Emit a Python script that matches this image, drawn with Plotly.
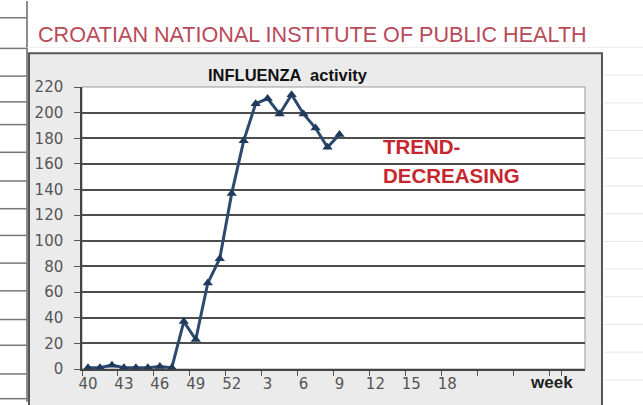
import plotly.graph_objects as go

# ---- data ----
weeks = [str(w) for w in list(range(40, 53)) + list(range(1, 30))]
obs_weeks = [str(w) for w in list(range(40, 53)) + list(range(1, 10))]
activity = [1, 1, 3, 1, 1, 1, 2, 1, 37, 23, 67, 86, 137,
            178, 207, 211, 199, 214, 199, 188, 173, 183]
tick_weeks = ["40", "43", "46", "49", "52", "3", "6", "9", "12", "15", "18", "21", "24", "27"]
tick_text = ["40", "43", "46", "49", "52", "3", "6", "9", "12", "15", "18", "", "", ""]
y_ticks = list(range(0, 221, 20))

W, H = 643, 405
L, R, T, B = 82, 585, 87, 372


def px(x):
    return (x - L) / (R - L)


def py(y):
    return (B - y) / (B - T)


fig = go.Figure()
fig.add_trace(go.Scatter(
    x=obs_weeks, y=activity, mode="lines+markers",
    line=dict(color="#2b4a6e", width=3),
    marker=dict(symbol="triangle-up", size=9, color="#1f3a5c"),
    showlegend=False, hoverinfo="x+y",
))

shapes = []
# chart box (grey chart area)
shapes.append(dict(type="rect", xref="paper", yref="paper", layer="below",
                   x0=px(29), x1=px(602), y0=py(420), y1=py(53),
                   fillcolor="#ebebeb", line=dict(color="#555555", width=2)))
# white plot area with grey right border
shapes.append(dict(type="rect", xref="paper", yref="paper", layer="below",
                   x0=0, x1=1, y0=0, y1=1,
                   fillcolor="white", line=dict(color="#999999", width=1)))
# spreadsheet lines on the left
shapes.append(dict(type="line", xref="paper", yref="paper",
                   x0=px(27), x1=px(27), y0=py(0), y1=py(405),
                   line=dict(color="#666666", width=1.5)))
for yy in [17, 48, 76, 102, 125, 153, 182, 210, 237, 265, 293, 322, 348, 377, 402]:
    shapes.append(dict(type="line", xref="paper", yref="paper",
                       x0=px(0), x1=px(27), y0=py(yy), y1=py(yy),
                       line=dict(color="#777777", width=1.5)))
# faint spreadsheet lines on the right
for yy in [47, 75, 103, 131, 159, 187, 215, 243, 271, 299, 327, 355, 383]:
    shapes.append(dict(type="line", xref="paper", yref="paper",
                       x0=px(604), x1=px(643), y0=py(yy), y1=py(yy),
                       line=dict(color="#e6e6e6", width=1)))
shapes.append(dict(type="line", xref="paper", yref="paper",
                   x0=px(27), x1=px(643), y0=py(47), y1=py(47),
                   line=dict(color="#eeeeee", width=1)))

annotations = [
    dict(text="CROATIAN NATIONAL INSTITUTE OF PUBLIC HEALTH", xref="paper", yref="paper",
         x=px(36), y=py(34), xanchor="left", yanchor="middle", showarrow=False,
         font=dict(family="Liberation Sans, Arial", size=21.6, color="#b94a5a")),
    dict(text="<b>INFLUENZA  activity</b>", xref="paper", yref="paper",
         x=px(288), y=py(75), xanchor="center", yanchor="middle", showarrow=False,
         font=dict(family="Liberation Sans, Arial", size=16.5, color="#111111")),
    dict(text="<b>TREND-</b>", xref="paper", yref="paper",
         x=px(381), y=py(147), xanchor="left", yanchor="middle", showarrow=False,
         font=dict(family="Liberation Sans, Arial", size=20.5, color="#c8262e")),
    dict(text="<b>DECREASING</b>", xref="paper", yref="paper",
         x=px(381), y=py(176), xanchor="left", yanchor="middle", showarrow=False,
         font=dict(family="Liberation Sans, Arial", size=20.5, color="#c8262e")),
    dict(text="<b>week</b>", xref="paper", yref="paper",
         x=px(551), y=py(386), xanchor="center", yanchor="middle", showarrow=False,
         font=dict(family="Liberation Sans, Arial", size=17, color="#222222")),
]

fig.update_layout(
    width=W, height=H,
    margin=dict(l=L, r=W - R, t=T, b=H - B),
    paper_bgcolor="white", plot_bgcolor="rgba(0,0,0,0)",
    shapes=shapes, annotations=annotations,
    showlegend=False,
)
fig.update_xaxes(
    type="category", categoryorder="array", categoryarray=weeks,
    range=[-0.5, len(weeks) - 0.5],
    tickmode="array", tickvals=tick_weeks, ticktext=tick_text,
    tickson="boundaries", ticks="outside", ticklen=5, tickcolor="#555555",
    tickangle=0,
    showgrid=False, showline=True, linecolor="#444444", linewidth=2,
    tickfont=dict(family="DejaVu Sans", size=15, color="#555555"),
    fixedrange=True,
)
fig.update_yaxes(
    range=[0, 220], tickmode="array", tickvals=y_ticks,
    ticks="outside", ticklen=6, tickcolor="#555555",
    showgrid=True, gridcolor="#4d4d4d", gridwidth=1.5,
    showline=True, linecolor="#444444", linewidth=1.5,
    zeroline=False,
    tickfont=dict(family="DejaVu Sans", size=15, color="#555555"),
    ticklabelstandoff=8,
    fixedrange=True,
)

fig.write_html(
    "out.html",
    config={"displayModeBar": False},
    post_script="document.body.style.margin='0';document.body.style.overflow='hidden';",
)
